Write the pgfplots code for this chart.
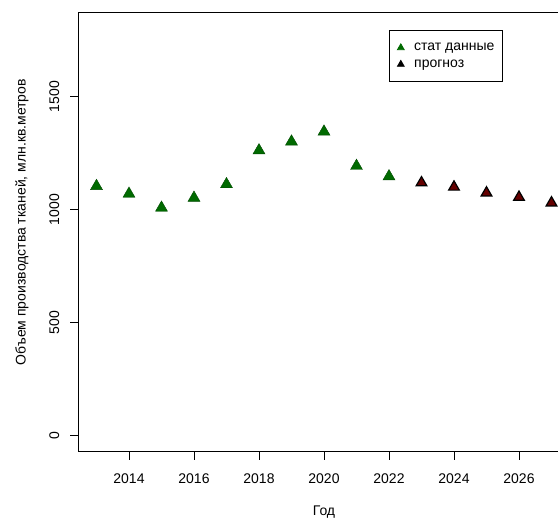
\documentclass[border=0pt]{standalone}
\usepackage{pgfplots}
\pgfplotsset{compat=1.18}
\usepackage{fontspec}
\setmainfont{Liberation Sans}
\definecolor{dgreen}{HTML}{006A00}
\definecolor{dred}{HTML}{650000}
\begin{document}
\fontsize{14}{16.8}\selectfont
\begin{tikzpicture}
\path[use as bounding box] (-78.3pt,-66.3pt) rectangle (479.7pt,451.7pt);
\begin{axis}[
  at={(0pt,0pt)}, anchor=south west,
  scale only axis,
  width=491.4pt, height=439pt,
  xmin=2012.44, xmax=2027.56,
  ymin=-72, ymax=1872,
  xtick={2014,2016,2018,2020,2022,2024,2026},
  ytick={0,500,1000,1500},
  xticklabels={2014,2016,2018,2020,2022,2024,2026},
  yticklabels={0,500,1000,1500},
  tick align=outside,
  xtick pos=bottom, ytick pos=left,
  major tick length=8pt,
  tick style={black, line width=0.7pt},
  axis line style={black, line width=0.8pt},
  /pgf/number format/assume math mode=true,
  ticklabel style={font=\fontsize{14}{16.8}\selectfont},
  xticklabel style={anchor=base},
  xticklabel shift=23.6pt,
  yticklabel style={rotate=90, anchor=base},
  yticklabel shift=11.3pt,
  xlabel={Год},
  ylabel={Объем производства тканей, млн.кв.метров},
  xlabel style={at={(axis description cs:0.5,-0.1446)}, anchor=base, font=\fontsize{14}{16.8}\selectfont},
  ylabel style={at={(axis description cs:-0.1074,0.523)}, rotate=0, anchor=base, font=\fontsize{14}{16.8}\selectfont},
  legend style={at={(axis description cs:0.6315,0.9604)}, anchor=north west,
    draw=black, line width=0.7pt, inner xsep=8pt, inner ysep=12.5pt,
    font=\fontsize{14}{16.8}\selectfont, row sep=7pt,
    nodes={inner sep=0pt},
    /tikz/every even column/.append style={column sep=0pt},
    /tikz/every odd column/.append style={column sep=0pt}},
  legend cell align=left,
]
\addplot[only marks, mark=triangle*, mark size=6.9pt,
  mark options={fill=dgreen, draw=dgreen!70!black, line width=0.4pt},
  legend image code/.code={\path (-3.5pt,0pt) (13pt,0pt); \draw[mark=triangle*, mark size=4pt, mark options={fill=dgreen, draw=dgreen}] plot coordinates {(0pt,0pt)};}]
coordinates {
(2013,1104) (2014,1070) (2015,1008) (2016,1052) (2017,1112)
(2018,1262) (2019,1301) (2020,1345) (2021,1193) (2022,1147)
};
\addlegendentry{стат данные}
\addplot[only marks, mark=triangle*, mark size=6.2pt,
  mark options={fill=dred, draw=black, line width=1.2pt},
  legend image code/.code={\path (-3.5pt,0pt) (13pt,0pt); \draw[mark=triangle*, mark size=4pt, mark options={fill=black, draw=black}] plot coordinates {(0pt,0pt)};}]
coordinates {
(2023,1119) (2024,1100) (2025,1074) (2026,1055) (2027,1030)
};
\addlegendentry{прогноз}
\end{axis}
\end{tikzpicture}
\end{document}
